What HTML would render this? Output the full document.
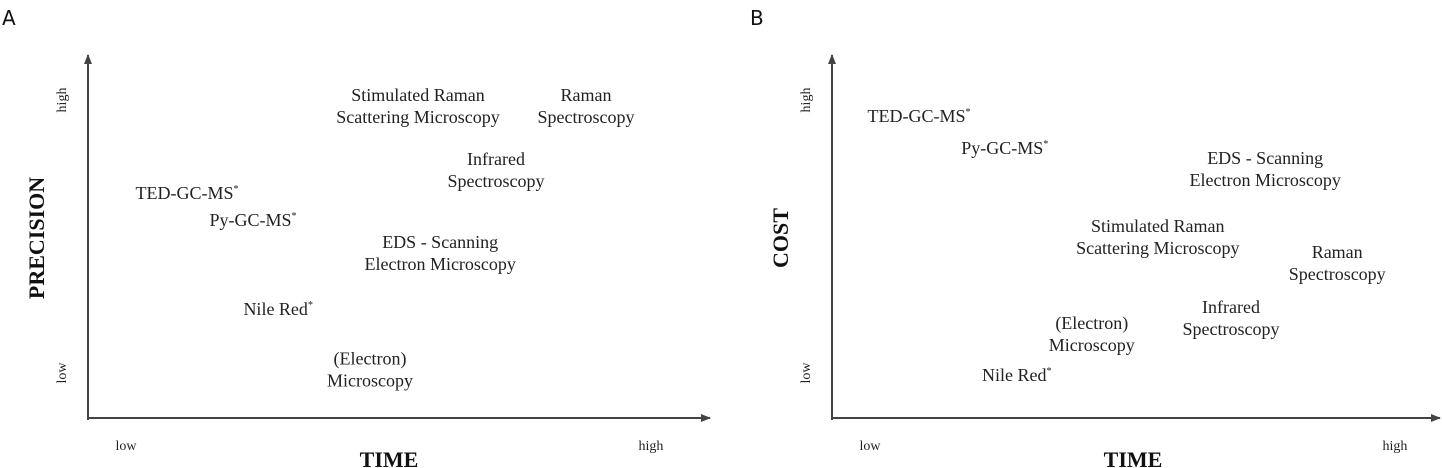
<!DOCTYPE html>
<html><head><meta charset="utf-8"><style>
html,body{margin:0;padding:0;background:#fff;width:1442px;height:468px;overflow:hidden}
svg{display:block}
.lbl{font-family:"Liberation Serif",serif;font-size:18px;fill:#222}
.tick{font-family:"Liberation Serif",serif;font-size:14px;fill:#222}
.title{font-family:"Liberation Serif",serif;font-size:22px;font-weight:bold;fill:#111}
.panel{font-family:"DejaVu Sans","Liberation Sans",sans-serif;font-size:20px;fill:#111}
</style></head><body>
<svg id="chart" width="1442" height="468">
<defs><marker id="arr" markerWidth="10" markerHeight="8" refX="9" refY="4" orient="auto" markerUnits="userSpaceOnUse"><path d="M0,0 L10,4 L0,8 Z" fill="#444"/></marker></defs>
<text class="panel" x="2" y="25">A</text>
<text class="panel" x="750" y="25">B</text>
</svg>
<script>
const labelsA = ["Stimulated Raman|Scattering Microscopy","Raman|Spectroscopy","Infrared|Spectroscopy","TED-GC-MS*","Py-GC-MS*","EDS - Scanning|Electron Microscopy","Nile Red*","(Electron)|Microscopy"];
const timeA = [55,83,68,16.5,27.5,58.7,31.7,47];
const precisionA = [86.7,86.7,68.9,62.5,55,45.8,30.3,13.5];
const labelsB = ["TED-GC-MS*","Py-GC-MS*","EDS - Scanning|Electron Microscopy","Stimulated Raman|Scattering Microscopy","Raman|Spectroscopy","Infrared|Spectroscopy","(Electron)|Microscopy","Nile Red*"];
const timeB = [14.5,28.8,72.2,54.3,84.2,66.5,43.3,30.8];
const costB = [83.9,75,69.2,50.3,43,27.8,23.3,11.9];

const svg = document.getElementById('chart');
const NS = 'http://www.w3.org/2000/svg';
function mk(tag, attrs){const e=document.createElementNS(NS,tag);for(const k in attrs)e.setAttribute(k,attrs[k]);svg.appendChild(e);return e;}

function panel(x0, xEnd, labels, xs, ys, yTitle, prefix){
  const y0=418, w=600, h=360;
  const xScale=v=>x0+v*w/100, yScale=v=>y0-v*h/100;
  const ya=mk('line',{x1:x0,y1:y0+2,x2:x0,y2:55,stroke:'#444','stroke-width':2,'marker-end':'url(#arr)'});
  
  
  const xa=mk('line',{x1:x0-1,y1:y0,x2:xEnd,y2:y0,stroke:'#444','stroke-width':2,'marker-end':'url(#arr)'});
  
  
  const ticks=[['low',x0+38,450],['high',x0+563,450]];
  ticks.forEach(t=>{const e=mk('text',{class:'tick',x:t[1],y:t[2],'text-anchor':'middle'});e.textContent=t[0];
    
    });
  [['high',100],['low',373]].forEach(t=>{const e=mk('text',{class:'tick',x:0,y:0,'text-anchor':'middle',transform:`translate(${x0-22},${t[1]}) rotate(-90)`});e.textContent=t[0];
    
    });
  const xt=mk('text',{class:'title',x:x0+301,y:467,'text-anchor':'middle'});xt.textContent='TIME';
  
  
  const yt=mk('text',{class:'title',x:0,y:0,'text-anchor':'middle',transform:`translate(${x0-44},238) rotate(-90)`});yt.textContent=yTitle;
  
  
  labels.forEach((l,i)=>{
    const lines=l.split('|');
    const cx=xScale(xs[i]), cy=yScale(ys[i]);
    const g=mk('text',{class:'lbl','text-anchor':'middle',x:cx,y:cy-(lines.length-1)*11+6});
    
    
    lines.forEach((ln,j)=>{
      const star=ln.endsWith('*');
      const t=document.createElementNS(NS,'tspan');
      t.setAttribute('x',cx); if(j>0) t.setAttribute('dy',22);
      t.textContent=star?ln.slice(0,-1):ln; g.appendChild(t);
      if(star){const s=document.createElementNS(NS,'tspan');s.setAttribute('dy',-7);s.setAttribute('font-size','10');s.textContent='*';g.appendChild(s);}
    });
  });
}
panel(88,710,labelsA,timeA,precisionA,'PRECISION','a');
panel(832,1440,labelsB,timeB,costB,'COST','b');
</script>
</body></html>
